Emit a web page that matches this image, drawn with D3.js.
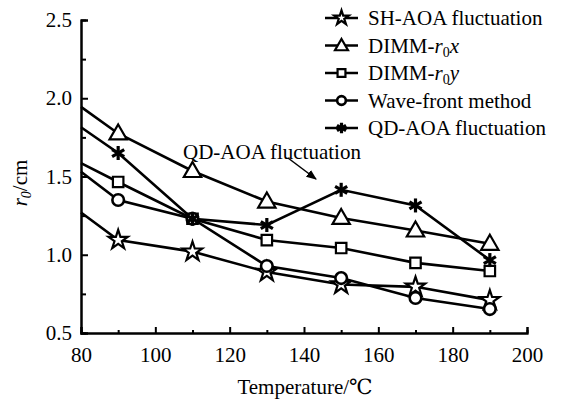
<!DOCTYPE html>
<html>
<head>
<meta charset="utf-8">
<script src="https://cdn.jsdelivr.net/npm/d3@7"></script>
<style>
  body { margin: 0; background: #fff; }
  svg text { font-family: "Liberation Serif", Tinos, "Times New Roman", "Nimbus Roman", "DejaVu Serif", serif !important; fill: #000; }
</style>
</head>
<body>
<script>
// chart size
const width = 563
const height = 403

// data (line starts at 80, markers from 90 on)
const temps = [80, 90, 110, 130, 150, 170, 190]
const shAoa = [1.27, 1.094, 1.02, 0.89, 0.81, 0.795, 0.71]
const dimmX = [1.945, 1.775, 1.535, 1.34, 1.235, 1.155, 1.07]
const dimmY = [1.585, 1.465, 1.23, 1.094, 1.043, 0.948, 0.896]
const waveFront = [1.53, 1.35, 1.23, 0.928, 0.851, 0.724, 0.653]
const qdAoa = [1.815, 1.65, 1.23, 1.19, 1.415, 1.315, 0.966]

const xTicks = [80, 100, 120, 140, 160, 180, 200]
const xMinor = [90, 110, 130, 150, 170, 190]
const yTicks = [0.5, 1.0, 1.5, 2.0, 2.5]
const yMinor = [0.75, 1.25, 1.75, 2.25]

const seriesNames = ["SH-AOA fluctuation", "DIMM-r0x", "DIMM-r0y", "Wave-front method", "QD-AOA fluctuation"]
const seriesValues = [shAoa, dimmX, dimmY, waveFront, qdAoa]
const seriesMarks = ["star", "triangle", "square", "circle", "asterisk"]

const x = d3.scaleLinear().domain([80, 200]).range([81, 527])
const y = d3.scaleLinear().domain([0.5, 2.5]).range([333, 20])

const svg = d3.select("body").append("svg")
  .attr("width", width)
  .attr("height", height)

/*
  axes: ticks point inward, minor ticks shorter
*/
svg.append("g")
  .attr("transform", `translate(0,${y(0.5)})`)
  .call(d3.axisBottom(x).tickValues(xMinor).tickSize(-3).tickFormat(""))
svg.append("g")
  .attr("transform", `translate(0,${y(0.5)})`)
  .call(d3.axisBottom(x).tickValues(xTicks).tickSize(-6).tickPadding(14).tickFormat(d3.format("d")))
svg.append("g")
  .attr("transform", `translate(${x(80)},0)`)
  .call(d3.axisLeft(y).tickValues(yMinor).tickSize(-5).tickFormat(""))
svg.append("g")
  .attr("transform", `translate(${x(80)},0)`)
  .call(d3.axisLeft(y).tickValues(yTicks).tickSize(-7).tickPadding(9).tickFormat(d3.format(".1f")))

svg.selectAll("g").attr("font-family", null)
svg.selectAll(".domain").attr("stroke", "#000").attr("stroke-width", 2)
svg.selectAll(".tick line").attr("stroke", "#000").attr("stroke-width", 2)
svg.selectAll(".tick text")
  .style("font-size", "21px")
  .attr("fill", "#000")

// axis titles
svg.append("text")
  .attr("x", 305)
  .attr("y", 394)
  .attr("text-anchor", "middle")
  .style("font-size", "21px")
  .text("Temperature/℃")

const yLabel = svg.append("text")
  .attr("transform", "translate(27,183) rotate(-90)")
  .attr("text-anchor", "middle")
  .style("font-size", "21px")
yLabel.append("tspan").style("font-style", "italic").text("r")
yLabel.append("tspan").style("font-size", "14px").attr("dy", 4).style("font-style", "italic").text("0")
yLabel.append("tspan").attr("dy", -4).text("/cm")

/*
  marker drawing
*/
function drawMark(g, kind, s) {
  if (kind === "star") {
    g.append("path").attr("d", d3.symbol(d3.symbolStar, 115 * s * s)())
      .attr("fill", "#fff").attr("stroke", "#000").attr("stroke-width", 2.2)
  } else if (kind === "triangle") {
    g.append("path").attr("d", d3.symbol(d3.symbolTriangle, 130 * s * s)()).attr("transform", "translate(0,1)")
      .attr("fill", "#fff").attr("stroke", "#000").attr("stroke-width", 2.2)
  } else if (kind === "square") {
    g.append("path").attr("d", d3.symbol(d3.symbolSquare, 110 * s * s)())
      .attr("fill", "#fff").attr("stroke", "#000").attr("stroke-width", 2.2)
  } else if (kind === "circle") {
    g.append("circle").attr("r", 5.8 * s)
      .attr("fill", "#fff").attr("stroke", "#000").attr("stroke-width", 2.6)
  } else {
    const r = 7 * s
    ;[90, 30, 150].forEach(a => {
      const dx = r * Math.cos(a * Math.PI / 180), dy = r * Math.sin(a * Math.PI / 180)
      g.append("line").attr("x1", -dx).attr("y1", -dy).attr("x2", dx).attr("y2", dy)
        .attr("stroke", "#000").attr("stroke-width", 3.2)
    })
  }
}

const line = d3.line().x(d => x(d[0])).y(d => y(d[1]))

seriesValues.forEach((vals, i) => {
  const pts = temps.map((t, j) => [t, vals[j]])
  svg.append("path")
    .datum(pts)
    .attr("fill", "none")
    .attr("stroke", "#000")
    .attr("stroke-width", 2.6)
    .attr("d", line)
})

seriesValues.forEach((vals, i) => {
  const pts = temps.map((t, j) => [t, vals[j]]).slice(1)
  svg.append("g").selectAll("g")
    .data(pts)
    .join("g")
    .attr("transform", d => `translate(${x(d[0])},${y(d[1])})`)
    .each(function() { drawMark(d3.select(this), seriesMarks[i], 1) })
})

// annotation with arrow
svg.append("defs").append("marker")
  .attr("id", "arrow")
  .attr("viewBox", "0 0 10 10")
  .attr("refX", 9).attr("refY", 5)
  .attr("markerWidth", 7).attr("markerHeight", 7)
  .attr("orient", "auto")
  .append("path").attr("d", "M0,1 L10,5 L0,9 Z").attr("fill", "#000")

svg.append("text")
  .attr("x", 183)
  .attr("y", 159)
  .style("font-size", "21px")
  .text("QD-AOA fluctuation")

svg.append("line")
  .attr("x1", 288).attr("y1", 158)
  .attr("x2", 316).attr("y2", 179)
  .attr("stroke", "#000")
  .attr("stroke-width", 1.5)
  .attr("marker-end", "url(#arrow)")

/*
  legend
*/
const legend = svg.append("g")
  .selectAll("g")
  .data(seriesNames)
  .join("g")
  .attr("transform", (d, i) => `translate(325,${18 + i * 27.5})`)

legend.append("line")
  .attr("x1", 0).attr("x2", 33)
  .attr("stroke", "#000").attr("stroke-width", 2.6)

legend.each(function(d, i) {
  const g = d3.select(this).append("g").attr("transform", "translate(16.5,0)")
  drawMark(g, seriesMarks[i], 0.75)
})

legend.append("text")
  .attr("x", 43)
  .attr("y", 7)
  .style("font-size", "21px")
  .each(function(d) {
    const t = d3.select(this)
    if (d.startsWith("DIMM-r0")) {
      t.append("tspan").text("DIMM-")
      t.append("tspan").style("font-style", "italic").text("r")
      t.append("tspan").style("font-size", "14px").attr("dy", 4).text("0")
      t.append("tspan").attr("dy", -4).style("font-style", "italic").text(d.slice(-1))
    } else {
      t.text(d)
    }
  })
</script>
</body>
</html>
